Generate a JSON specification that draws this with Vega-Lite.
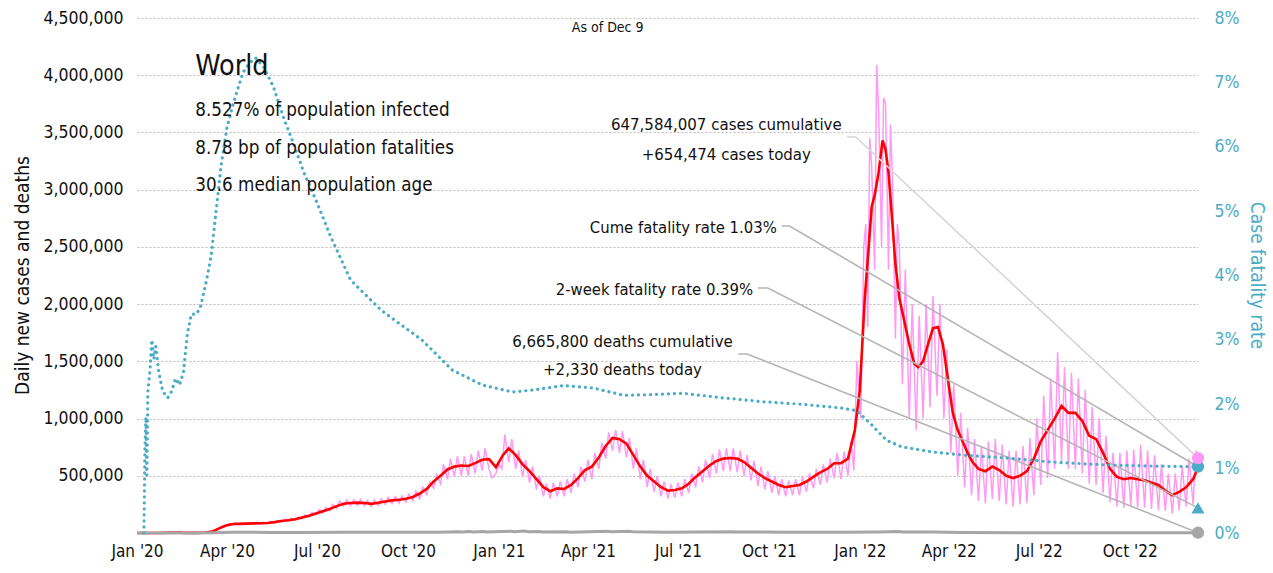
{
"$schema":"https://vega.github.io/schema/vega-lite/v6.json",
"width":1061,"height":515,
"autosize":{"type":"none"},
"padding":{"left":137,"top":18,"right":75,"bottom":40},
"config":{"font":"DejaVu Sans Condensed, Roboto, sans-serif","view":{"stroke":null}},
"datasets":{
"pink":[
{"d":"2020-01-01","v":0},{"d":"2020-01-22","v":500},{"d":"2020-02-05","v":3500},{"d":"2020-02-12","v":2000},{"d":"2020-02-13","v":15000},{"d":"2020-02-14","v":5000},{"d":"2020-03-01","v":1800},{"d":"2020-03-10","v":4500},{"d":"2020-03-17","v":13000},{"d":"2020-03-21","v":30000},{"d":"2020-03-24","v":38000},{"d":"2020-03-28","v":62000},{"d":"2020-03-31","v":60000},{"d":"2020-04-03","v":80000},{"d":"2020-04-07","v":72000},{"d":"2020-04-10","v":88000},{"d":"2020-04-14","v":74000},{"d":"2020-04-17","v":90000},{"d":"2020-04-21","v":76000},{"d":"2020-04-24","v":92000},{"d":"2020-04-28","v":77000},{"d":"2020-05-01","v":94000},{"d":"2020-05-05","v":78000},{"d":"2020-05-08","v":96000},{"d":"2020-05-12","v":80000},{"d":"2020-05-15","v":100000},{"d":"2020-05-19","v":88000},{"d":"2020-05-22","v":108000},{"d":"2020-05-26","v":96000},{"d":"2020-05-29","v":120000},{"d":"2020-06-02","v":104000},{"d":"2020-06-05","v":128000},{"d":"2020-06-09","v":110000},{"d":"2020-06-12","v":140000},{"d":"2020-06-16","v":124000},{"d":"2020-06-19","v":160000},{"d":"2020-06-23","v":138000},{"d":"2020-06-26","v":180000},{"d":"2020-06-30","v":158000},{"d":"2020-07-03","v":205000},{"d":"2020-07-07","v":176000},{"d":"2020-07-10","v":225000},{"d":"2020-07-14","v":195000},{"d":"2020-07-17","v":250000},{"d":"2020-07-21","v":215000},{"d":"2020-07-24","v":280000},{"d":"2020-07-28","v":235000},{"d":"2020-07-31","v":290000},{"d":"2020-08-04","v":240000},{"d":"2020-08-07","v":290000},{"d":"2020-08-11","v":242000},{"d":"2020-08-14","v":292000},{"d":"2020-08-18","v":238000},{"d":"2020-08-21","v":285000},{"d":"2020-08-25","v":232000},{"d":"2020-08-28","v":288000},{"d":"2020-09-01","v":240000},{"d":"2020-09-04","v":300000},{"d":"2020-09-08","v":250000},{"d":"2020-09-11","v":310000},{"d":"2020-09-15","v":258000},{"d":"2020-09-18","v":318000},{"d":"2020-09-22","v":262000},{"d":"2020-09-25","v":325000},{"d":"2020-09-29","v":270000},{"d":"2020-10-02","v":340000},{"d":"2020-10-06","v":280000},{"d":"2020-10-09","v":365000},{"d":"2020-10-13","v":300000},{"d":"2020-10-16","v":400000},{"d":"2020-10-20","v":335000},{"d":"2020-10-23","v":445000},{"d":"2020-10-27","v":390000},{"d":"2020-10-30","v":510000},{"d":"2020-11-03","v":430000},{"d":"2020-11-06","v":600000},{"d":"2020-11-10","v":470000},{"d":"2020-11-13","v":650000},{"d":"2020-11-17","v":490000},{"d":"2020-11-20","v":670000},{"d":"2020-11-24","v":500000},{"d":"2020-11-27","v":670000},{"d":"2020-12-01","v":500000},{"d":"2020-12-04","v":690000},{"d":"2020-12-08","v":520000},{"d":"2020-12-11","v":720000},{"d":"2020-12-15","v":545000},{"d":"2020-12-18","v":740000},{"d":"2020-12-22","v":560000},{"d":"2020-12-25","v":480000},{"d":"2020-12-29","v":520000},{"d":"2021-01-01","v":600000},{"d":"2021-01-04","v":560000},{"d":"2021-01-07","v":860000},{"d":"2021-01-11","v":620000},{"d":"2021-01-14","v":820000},{"d":"2021-01-18","v":560000},{"d":"2021-01-21","v":720000},{"d":"2021-01-25","v":490000},{"d":"2021-01-28","v":640000},{"d":"2021-02-01","v":440000},{"d":"2021-02-04","v":580000},{"d":"2021-02-08","v":380000},{"d":"2021-02-11","v":500000},{"d":"2021-02-15","v":320000},{"d":"2021-02-18","v":430000},{"d":"2021-02-22","v":300000},{"d":"2021-02-25","v":440000},{"d":"2021-03-01","v":320000},{"d":"2021-03-04","v":450000},{"d":"2021-03-08","v":320000},{"d":"2021-03-11","v":470000},{"d":"2021-03-15","v":350000},{"d":"2021-03-18","v":520000},{"d":"2021-03-22","v":400000},{"d":"2021-03-25","v":580000},{"d":"2021-03-29","v":450000},{"d":"2021-04-01","v":640000},{"d":"2021-04-05","v":470000},{"d":"2021-04-08","v":700000},{"d":"2021-04-12","v":560000},{"d":"2021-04-15","v":790000},{"d":"2021-04-19","v":650000},{"d":"2021-04-22","v":880000},{"d":"2021-04-26","v":720000},{"d":"2021-04-29","v":900000},{"d":"2021-05-03","v":700000},{"d":"2021-05-06","v":890000},{"d":"2021-05-10","v":660000},{"d":"2021-05-13","v":830000},{"d":"2021-05-17","v":560000},{"d":"2021-05-20","v":740000},{"d":"2021-05-24","v":470000},{"d":"2021-05-27","v":640000},{"d":"2021-05-31","v":400000},{"d":"2021-06-03","v":560000},{"d":"2021-06-07","v":360000},{"d":"2021-06-10","v":500000},{"d":"2021-06-14","v":320000},{"d":"2021-06-17","v":450000},{"d":"2021-06-21","v":300000},{"d":"2021-06-24","v":420000},{"d":"2021-06-28","v":310000},{"d":"2021-07-01","v":440000},{"d":"2021-07-05","v":320000},{"d":"2021-07-08","v":470000},{"d":"2021-07-12","v":350000},{"d":"2021-07-15","v":520000},{"d":"2021-07-19","v":400000},{"d":"2021-07-22","v":580000},{"d":"2021-07-26","v":440000},{"d":"2021-07-29","v":640000},{"d":"2021-08-02","v":480000},{"d":"2021-08-05","v":690000},{"d":"2021-08-09","v":520000},{"d":"2021-08-12","v":730000},{"d":"2021-08-16","v":540000},{"d":"2021-08-19","v":740000},{"d":"2021-08-23","v":540000},{"d":"2021-08-26","v":740000},{"d":"2021-08-30","v":530000},{"d":"2021-09-02","v":720000},{"d":"2021-09-06","v":500000},{"d":"2021-09-09","v":680000},{"d":"2021-09-13","v":460000},{"d":"2021-09-16","v":630000},{"d":"2021-09-20","v":410000},{"d":"2021-09-23","v":580000},{"d":"2021-09-27","v":380000},{"d":"2021-09-30","v":540000},{"d":"2021-10-04","v":350000},{"d":"2021-10-07","v":500000},{"d":"2021-10-11","v":330000},{"d":"2021-10-14","v":470000},{"d":"2021-10-18","v":320000},{"d":"2021-10-21","v":460000},{"d":"2021-10-25","v":330000},{"d":"2021-10-28","v":470000},{"d":"2021-11-01","v":330000},{"d":"2021-11-04","v":490000},{"d":"2021-11-08","v":360000},{"d":"2021-11-11","v":520000},{"d":"2021-11-15","v":390000},{"d":"2021-11-18","v":560000},{"d":"2021-11-22","v":420000},{"d":"2021-11-25","v":600000},{"d":"2021-11-29","v":440000},{"d":"2021-12-02","v":650000},{"d":"2021-12-06","v":480000},{"d":"2021-12-09","v":700000},{"d":"2021-12-13","v":470000},{"d":"2021-12-16","v":710000},{"d":"2021-12-20","v":500000},{"d":"2021-12-23","v":800000},{"d":"2021-12-26","v":550000},{"d":"2021-12-29","v":1500000},{"d":"2022-01-02","v":1000000},{"d":"2022-01-05","v":2500000},{"d":"2022-01-07","v":2700000},{"d":"2022-01-09","v":1800000},{"d":"2022-01-11","v":3450000},{"d":"2022-01-13","v":3200000},{"d":"2022-01-16","v":2300000},{"d":"2022-01-18","v":4090000},{"d":"2022-01-20","v":3700000},{"d":"2022-01-23","v":2500000},{"d":"2022-01-25","v":3800000},{"d":"2022-01-27","v":3750000},{"d":"2022-01-30","v":2300000},{"d":"2022-02-01","v":3570000},{"d":"2022-02-03","v":3100000},{"d":"2022-02-06","v":1700000},{"d":"2022-02-08","v":2700000},{"d":"2022-02-10","v":2500000},{"d":"2022-02-13","v":1300000},{"d":"2022-02-16","v":2300000},{"d":"2022-02-20","v":1000000},{"d":"2022-02-23","v":2000000},{"d":"2022-02-27","v":900000},{"d":"2022-03-02","v":1900000},{"d":"2022-03-06","v":1000000},{"d":"2022-03-09","v":2000000},{"d":"2022-03-13","v":1100000},{"d":"2022-03-16","v":2070000},{"d":"2022-03-20","v":1200000},{"d":"2022-03-23","v":2000000},{"d":"2022-03-27","v":1000000},{"d":"2022-03-30","v":1600000},{"d":"2022-04-03","v":700000},{"d":"2022-04-06","v":1300000},{"d":"2022-04-10","v":500000},{"d":"2022-04-13","v":1050000},{"d":"2022-04-17","v":400000},{"d":"2022-04-20","v":920000},{"d":"2022-04-24","v":330000},{"d":"2022-04-27","v":820000},{"d":"2022-05-01","v":280000},{"d":"2022-05-04","v":760000},{"d":"2022-05-08","v":260000},{"d":"2022-05-11","v":800000},{"d":"2022-05-15","v":300000},{"d":"2022-05-18","v":820000},{"d":"2022-05-22","v":280000},{"d":"2022-05-25","v":770000},{"d":"2022-05-29","v":250000},{"d":"2022-06-01","v":720000},{"d":"2022-06-05","v":230000},{"d":"2022-06-08","v":720000},{"d":"2022-06-12","v":250000},{"d":"2022-06-15","v":760000},{"d":"2022-06-19","v":260000},{"d":"2022-06-22","v":830000},{"d":"2022-06-26","v":330000},{"d":"2022-06-29","v":1000000},{"d":"2022-07-03","v":420000},{"d":"2022-07-06","v":1200000},{"d":"2022-07-10","v":480000},{"d":"2022-07-13","v":1350000},{"d":"2022-07-17","v":560000},{"d":"2022-07-20","v":1580000},{"d":"2022-07-24","v":620000},{"d":"2022-07-27","v":1450000},{"d":"2022-07-31","v":560000},{"d":"2022-08-03","v":1400000},{"d":"2022-08-07","v":560000},{"d":"2022-08-10","v":1350000},{"d":"2022-08-14","v":520000},{"d":"2022-08-17","v":1250000},{"d":"2022-08-21","v":430000},{"d":"2022-08-24","v":1100000},{"d":"2022-08-28","v":420000},{"d":"2022-08-31","v":1000000},{"d":"2022-09-04","v":350000},{"d":"2022-09-07","v":850000},{"d":"2022-09-11","v":270000},{"d":"2022-09-14","v":700000},{"d":"2022-09-18","v":230000},{"d":"2022-09-21","v":700000},{"d":"2022-09-25","v":220000},{"d":"2022-09-28","v":720000},{"d":"2022-10-02","v":230000},{"d":"2022-10-05","v":730000},{"d":"2022-10-09","v":220000},{"d":"2022-10-12","v":770000},{"d":"2022-10-16","v":220000},{"d":"2022-10-19","v":720000},{"d":"2022-10-23","v":210000},{"d":"2022-10-26","v":680000},{"d":"2022-10-30","v":200000},{"d":"2022-11-02","v":600000},{"d":"2022-11-06","v":190000},{"d":"2022-11-09","v":520000},{"d":"2022-11-13","v":170000},{"d":"2022-11-16","v":520000},{"d":"2022-11-20","v":200000},{"d":"2022-11-23","v":580000},{"d":"2022-11-27","v":230000},{"d":"2022-11-30","v":650000},{"d":"2022-12-04","v":250000},{"d":"2022-12-07","v":720000},{"d":"2022-12-09","v":654474}
],
"red":[
{"d":"2020-01-01","v":0},{"d":"2020-01-22","v":100},{"d":"2020-02-05","v":3000},{"d":"2020-02-12","v":4000},{"d":"2020-02-19","v":1500},{"d":"2020-03-01","v":1500},{"d":"2020-03-10","v":4000},{"d":"2020-03-17","v":12000},{"d":"2020-03-24","v":40000},{"d":"2020-03-31","v":65000},{"d":"2020-04-07","v":78000},{"d":"2020-04-14","v":80000},{"d":"2020-04-21","v":82000},{"d":"2020-04-28","v":84000},{"d":"2020-05-05","v":85000},{"d":"2020-05-12","v":88000},{"d":"2020-05-19","v":95000},{"d":"2020-05-26","v":105000},{"d":"2020-06-02","v":112000},{"d":"2020-06-09","v":120000},{"d":"2020-06-16","v":135000},{"d":"2020-06-23","v":150000},{"d":"2020-06-30","v":170000},{"d":"2020-07-07","v":190000},{"d":"2020-07-14","v":210000},{"d":"2020-07-21","v":235000},{"d":"2020-07-28","v":255000},{"d":"2020-08-04","v":262000},{"d":"2020-08-11","v":265000},{"d":"2020-08-18","v":262000},{"d":"2020-08-25","v":255000},{"d":"2020-09-01","v":265000},{"d":"2020-09-08","v":275000},{"d":"2020-09-15","v":285000},{"d":"2020-09-22","v":290000},{"d":"2020-09-29","v":300000},{"d":"2020-10-06","v":315000},{"d":"2020-10-13","v":345000},{"d":"2020-10-20","v":385000},{"d":"2020-10-27","v":450000},{"d":"2020-11-03","v":500000},{"d":"2020-11-10","v":555000},{"d":"2020-11-17","v":580000},{"d":"2020-11-24","v":590000},{"d":"2020-12-01","v":585000},{"d":"2020-12-08","v":610000},{"d":"2020-12-15","v":640000},{"d":"2020-12-22","v":645000},{"d":"2020-12-29","v":575000},{"d":"2021-01-05","v":680000},{"d":"2021-01-11","v":740000},{"d":"2021-01-18","v":680000},{"d":"2021-01-25","v":600000},{"d":"2021-02-01","v":540000},{"d":"2021-02-08","v":470000},{"d":"2021-02-15","v":400000},{"d":"2021-02-22","v":365000},{"d":"2021-03-01","v":390000},{"d":"2021-03-08","v":385000},{"d":"2021-03-15","v":420000},{"d":"2021-03-22","v":480000},{"d":"2021-03-29","v":550000},{"d":"2021-04-05","v":580000},{"d":"2021-04-12","v":660000},{"d":"2021-04-19","v":760000},{"d":"2021-04-26","v":830000},{"d":"2021-05-03","v":820000},{"d":"2021-05-10","v":780000},{"d":"2021-05-17","v":680000},{"d":"2021-05-24","v":580000},{"d":"2021-05-31","v":500000},{"d":"2021-06-07","v":450000},{"d":"2021-06-14","v":400000},{"d":"2021-06-21","v":370000},{"d":"2021-06-28","v":375000},{"d":"2021-07-05","v":390000},{"d":"2021-07-12","v":430000},{"d":"2021-07-19","v":490000},{"d":"2021-07-26","v":540000},{"d":"2021-08-02","v":590000},{"d":"2021-08-09","v":630000},{"d":"2021-08-16","v":650000},{"d":"2021-08-23","v":655000},{"d":"2021-08-30","v":650000},{"d":"2021-09-06","v":620000},{"d":"2021-09-13","v":570000},{"d":"2021-09-20","v":520000},{"d":"2021-09-27","v":480000},{"d":"2021-10-04","v":450000},{"d":"2021-10-11","v":420000},{"d":"2021-10-18","v":400000},{"d":"2021-10-25","v":410000},{"d":"2021-11-01","v":420000},{"d":"2021-11-08","v":450000},{"d":"2021-11-15","v":490000},{"d":"2021-11-22","v":530000},{"d":"2021-11-29","v":560000},{"d":"2021-12-06","v":610000},{"d":"2021-12-13","v":610000},{"d":"2021-12-20","v":650000},{"d":"2021-12-27","v":900000},{"d":"2022-01-01","v":1250000},{"d":"2022-01-06","v":2050000},{"d":"2022-01-10","v":2500000},{"d":"2022-01-13","v":2850000},{"d":"2022-01-16","v":2950000},{"d":"2022-01-20","v":3150000},{"d":"2022-01-24","v":3430000},{"d":"2022-01-27","v":3350000},{"d":"2022-01-30","v":3150000},{"d":"2022-02-03","v":2700000},{"d":"2022-02-06","v":2350000},{"d":"2022-02-10","v":2050000},{"d":"2022-02-15","v":1850000},{"d":"2022-02-20","v":1650000},{"d":"2022-02-25","v":1480000},{"d":"2022-03-01","v":1450000},{"d":"2022-03-06","v":1500000},{"d":"2022-03-11","v":1650000},{"d":"2022-03-16","v":1790000},{"d":"2022-03-21","v":1800000},{"d":"2022-03-26","v":1650000},{"d":"2022-03-31","v":1350000},{"d":"2022-04-05","v":1050000},{"d":"2022-04-10","v":900000},{"d":"2022-04-15","v":800000},{"d":"2022-04-20","v":700000},{"d":"2022-04-25","v":620000},{"d":"2022-05-01","v":560000},{"d":"2022-05-08","v":540000},{"d":"2022-05-15","v":580000},{"d":"2022-05-22","v":550000},{"d":"2022-05-29","v":500000},{"d":"2022-06-05","v":480000},{"d":"2022-06-12","v":500000},{"d":"2022-06-19","v":540000},{"d":"2022-06-26","v":650000},{"d":"2022-07-03","v":800000},{"d":"2022-07-10","v":900000},{"d":"2022-07-17","v":1000000},{"d":"2022-07-24","v":1110000},{"d":"2022-07-31","v":1050000},{"d":"2022-08-07","v":1050000},{"d":"2022-08-14","v":980000},{"d":"2022-08-21","v":850000},{"d":"2022-08-28","v":820000},{"d":"2022-09-04","v":700000},{"d":"2022-09-11","v":560000},{"d":"2022-09-18","v":490000},{"d":"2022-09-25","v":470000},{"d":"2022-10-02","v":480000},{"d":"2022-10-09","v":470000},{"d":"2022-10-16","v":460000},{"d":"2022-10-23","v":440000},{"d":"2022-10-30","v":420000},{"d":"2022-11-06","v":370000},{"d":"2022-11-13","v":330000},{"d":"2022-11-20","v":360000},{"d":"2022-11-27","v":400000},{"d":"2022-12-04","v":470000},{"d":"2022-12-09","v":570000}
],
"deaths":[
{"d":"2020-01-01","v":0},{"d":"2020-03-01","v":100},{"d":"2020-03-20","v":1500},{"d":"2020-04-05","v":5500},{"d":"2020-04-18","v":7500},{"d":"2020-05-15","v":5000},{"d":"2020-06-15","v":4500},{"d":"2020-07-25","v":5800},{"d":"2020-09-15","v":5500},{"d":"2020-11-01","v":7000},{"d":"2020-11-20","v":10500},{"d":"2020-11-25","v":8000},{"d":"2020-12-02","v":12000},{"d":"2020-12-06","v":9000},{"d":"2020-12-16","v":13000},{"d":"2020-12-20","v":9500},{"d":"2021-01-13","v":16000},{"d":"2021-01-17","v":11000},{"d":"2021-01-27","v":17000},{"d":"2021-01-31","v":11000},{"d":"2021-02-10","v":14000},{"d":"2021-02-14","v":8500},{"d":"2021-03-10","v":11000},{"d":"2021-03-14","v":7500},{"d":"2021-04-21","v":15000},{"d":"2021-04-25","v":10500},{"d":"2021-05-12","v":15000},{"d":"2021-05-16","v":10000},{"d":"2021-06-20","v":7500},{"d":"2021-08-25","v":11500},{"d":"2021-08-29","v":8000},{"d":"2021-10-20","v":7500},{"d":"2021-12-15","v":7500},{"d":"2022-01-20","v":9000},{"d":"2022-02-09","v":13000},{"d":"2022-02-13","v":8000},{"d":"2022-03-15","v":8000},{"d":"2022-04-15","v":4000},{"d":"2022-06-15","v":2000},{"d":"2022-08-10","v":2800},{"d":"2022-10-15","v":1800},{"d":"2022-12-09","v":2330}
],
"cfr":[
{"d":"2020-01-08","v":0},{"d":"2020-01-09","v":0.013},{"d":"2020-01-10","v":0.018},{"d":"2020-01-11","v":0.009},{"d":"2020-01-12","v":0.022},{"d":"2020-01-14","v":0.025},{"d":"2020-01-16","v":0.03},{"d":"2020-01-18","v":0.027},{"d":"2020-01-20","v":0.029},{"d":"2020-01-23","v":0.025},{"d":"2020-01-27","v":0.022},{"d":"2020-02-01","v":0.021},{"d":"2020-02-05","v":0.022},{"d":"2020-02-09","v":0.024},{"d":"2020-02-13","v":0.023},{"d":"2020-02-17","v":0.025},{"d":"2020-02-21","v":0.031},{"d":"2020-02-25","v":0.034},{"d":"2020-03-01","v":0.034},{"d":"2020-03-05","v":0.035},{"d":"2020-03-11","v":0.039},{"d":"2020-03-16","v":0.043},{"d":"2020-03-21","v":0.05},{"d":"2020-03-26","v":0.057},{"d":"2020-04-01","v":0.063},{"d":"2020-04-07","v":0.0665},{"d":"2020-04-12","v":0.069},{"d":"2020-04-17","v":0.0715},{"d":"2020-04-24","v":0.073},{"d":"2020-04-30","v":0.0738},{"d":"2020-05-08","v":0.0724},{"d":"2020-05-18","v":0.0693},{"d":"2020-05-28","v":0.0646},{"d":"2020-06-07","v":0.0606},{"d":"2020-06-18","v":0.0559},{"d":"2020-06-30","v":0.0517},{"d":"2020-07-15","v":0.046},{"d":"2020-08-04","v":0.0393},{"d":"2020-09-04","v":0.0346},{"d":"2020-10-15","v":0.030},{"d":"2020-11-15","v":0.0253},{"d":"2020-12-15","v":0.023},{"d":"2021-01-15","v":0.0219},{"d":"2021-02-04","v":0.0222},{"d":"2021-03-07","v":0.0229},{"d":"2021-04-07","v":0.0225},{"d":"2021-05-07","v":0.0214},{"d":"2021-06-06","v":0.0215},{"d":"2021-07-06","v":0.0217},{"d":"2021-08-15","v":0.021},{"d":"2021-09-24","v":0.0204},{"d":"2021-11-03","v":0.02},{"d":"2021-12-14","v":0.0194},{"d":"2021-12-29","v":0.019},{"d":"2022-01-13","v":0.0168},{"d":"2022-01-28","v":0.0144},{"d":"2022-02-12","v":0.0134},{"d":"2022-03-15","v":0.0126},{"d":"2022-04-15","v":0.0121},{"d":"2022-05-26","v":0.0117},{"d":"2022-07-16","v":0.011},{"d":"2022-09-04","v":0.0106},{"d":"2022-10-24","v":0.0104},{"d":"2022-12-09","v":0.0103}
],
"cfrCume":[{"d":"2022-12-09","v":0.0103}],
"cfr2wk":[{"d":"2022-12-09","v":0.0039}],
"casesEnd":[{"d":"2022-12-09","v":654474}],
"deathsEnd":[{"d":"2022-12-09","v":2330}],
"leadCases":[
{"o":1,"d":"2021-12-19","v":3460000},{"o":2,"d":"2021-12-28","v":3460000},{"o":3,"d":"2022-12-09","v":654474}
],
"leadOther":[
{"k":"cume","o":1,"d":"2021-10-14","v":2683000},{"k":"cume","o":2,"d":"2021-10-22","v":2683000},{"k":"cume","o":3,"d":"2022-12-09","v":579375},
{"k":"twoweek","o":1,"d":"2021-09-20","v":2141000},{"k":"twoweek","o":2,"d":"2021-09-30","v":2141000},{"k":"twoweek","o":3,"d":"2022-12-09","v":219375},
{"k":"deaths","o":1,"d":"2021-08-31","v":1564000},{"k":"deaths","o":2,"d":"2021-09-09","v":1564000},{"k":"deaths","o":3,"d":"2022-12-09","v":2330}
],
"titleText":[{"d":"2020-02-29","v":4081000,"t":"World"}],
"infoText":[
{"d":"2020-02-29","v":3696000,"t":"8.527% of population infected"},
{"d":"2020-02-29","v":3364000,"t":"8.78 bp of population fatalities"},
{"d":"2020-02-29","v":3041000,"t":"30.6 median population age"}
],
"asOf":[{"d":"2021-04-21","v":4413000,"t":"As of Dec 9"}],
"annCenter":[
{"d":"2021-08-19","v":3565000,"t":"647,584,007 cases cumulative"},
{"d":"2021-08-19","v":3303000,"t":"+654,474 cases today"},
{"d":"2021-05-06","v":1669000,"t":"6,665,800 deaths cumulative"},
{"d":"2021-05-06","v":1424000,"t":"+2,330 deaths today"}
],
"annRight":[
{"d":"2021-10-09","v":2665000,"t":"Cume fatality rate 1.03%"},
{"d":"2021-09-15","v":2123000,"t":"2-week fatality rate 0.39%"}
]
},
"encoding":{
"x":{"field":"d","type":"temporal","title":null,
"scale":{"domain":[{"year":2020,"month":1,"date":1,"utc":true},{"year":2022,"month":12,"date":9,"utc":true}]},
"axis":{"tickCount":{"interval":"month","step":3},"format":"%b '%y","labelFontSize":17,"labelColor":"#111","ticks":false,"domain":false,"grid":false,"labelPadding":10,"labelFlush":false,"labelOverlap":false}}
},
"layer":[
{
"layer":[
{"data":{"name":"pink"},"mark":{"type":"line","color":"#ff99f5","strokeWidth":1.5},
"encoding":{"y":{"field":"v","type":"quantitative","scale":{"domain":[0,4500000]},
"axis":{"values":[500000,1000000,1500000,2000000,2500000,3000000,3500000,4000000,4500000],"format":",d","grid":true,"gridDash":[2,2],"gridColor":"#bbbbbb","gridWidth":1,"labelFontSize":17.5,"labelColor":"#111","labelPadding":14,"ticks":false,"domain":false,
"title":"Daily new cases and deaths","titleFontSize":19,"titleFontWeight":"normal","titleColor":"#111","titleX":-115,"titleY":257,"titleBaseline":"middle"}}}},
{"data":{"name":"red"},"mark":{"type":"line","color":"#ff0000","strokeWidth":2.6},
"encoding":{"y":{"field":"v","type":"quantitative"}}},
{"data":{"name":"deaths"},"mark":{"type":"line","color":"#a6a6a6","strokeWidth":3},
"encoding":{"y":{"field":"v","type":"quantitative"}}}
]
},
{
"layer":[
{"data":{"name":"leadCases"},"mark":{"type":"line","color":"#d6d6d6","strokeWidth":1.6},
"encoding":{"order":{"field":"o"},"y":{"field":"v","type":"quantitative","scale":{"domain":[0,4500000]},"axis":null}}},
{"data":{"name":"leadOther"},"mark":{"type":"line","color":"#b5b5b5","strokeWidth":1.6},
"encoding":{"detail":{"field":"k"},"order":{"field":"o"},"y":{"field":"v","type":"quantitative"}}}
]
},
{
"layer":[
{"data":{"name":"cfr"},"mark":{"type":"line","color":"#4bacc6","strokeWidth":3.2,"strokeDash":[0.1,5.9],"strokeCap":"round"},
"encoding":{"y":{"field":"v","type":"quantitative","scale":{"domain":[0,0.08]},
"axis":{"orient":"right","values":[0,0.01,0.02,0.03,0.04,0.05,0.06,0.07,0.08],"format":".0%","grid":false,"labelColor":"#4bacc6","labelFontSize":17.5,"labelPadding":16,"ticks":false,"domain":false,
"title":"Case fatality rate","titleColor":"#4bacc6","titleFontSize":19,"titleFontWeight":"normal","titleAngle":90,"titleX":58,"titleY":257,"titleBaseline":"middle"}}}},
{"data":{"name":"cfrCume"},"mark":{"type":"point","filled":true,"opacity":1,"color":"#4bacc6","size":150,"shape":"circle"},
"encoding":{"y":{"field":"v","type":"quantitative"}}},
{"data":{"name":"cfr2wk"},"mark":{"type":"point","filled":true,"opacity":1,"color":"#4bacc6","size":170,"shape":"triangle-up"},
"encoding":{"y":{"field":"v","type":"quantitative"}}}
]
},
{
"layer":[
{"data":{"name":"casesEnd"},"mark":{"type":"point","filled":true,"opacity":1,"color":"#ff99f5","size":150,"shape":"circle"},
"encoding":{"y":{"field":"v","type":"quantitative","scale":{"domain":[0,4500000]},"axis":null}}},
{"data":{"name":"deathsEnd"},"mark":{"type":"point","filled":true,"opacity":1,"color":"#a6a6a6","size":150,"shape":"circle"},
"encoding":{"y":{"field":"v","type":"quantitative"}}},
{"data":{"name":"titleText"},"mark":{"type":"text","align":"left","baseline":"middle","fontSize":28.5,"color":"#111"},
"encoding":{"y":{"field":"v","type":"quantitative"},"text":{"field":"t"}}},
{"data":{"name":"infoText"},"mark":{"type":"text","align":"left","baseline":"middle","fontSize":18.7,"color":"#111"},
"encoding":{"y":{"field":"v","type":"quantitative"},"text":{"field":"t"}}},
{"data":{"name":"asOf"},"mark":{"type":"text","align":"center","baseline":"middle","fontSize":14,"color":"#111"},
"encoding":{"y":{"field":"v","type":"quantitative"},"text":{"field":"t"}}},
{"data":{"name":"annCenter"},"mark":{"type":"text","align":"center","baseline":"middle","fontSize":16.7,"color":"#111"},
"encoding":{"y":{"field":"v","type":"quantitative"},"text":{"field":"t"}}},
{"data":{"name":"annRight"},"mark":{"type":"text","align":"right","baseline":"middle","fontSize":16.5,"color":"#111"},
"encoding":{"y":{"field":"v","type":"quantitative"},"text":{"field":"t"}}}
]
}
],
"resolve":{"scale":{"y":"independent"},"axis":{"y":"independent"}}
}
